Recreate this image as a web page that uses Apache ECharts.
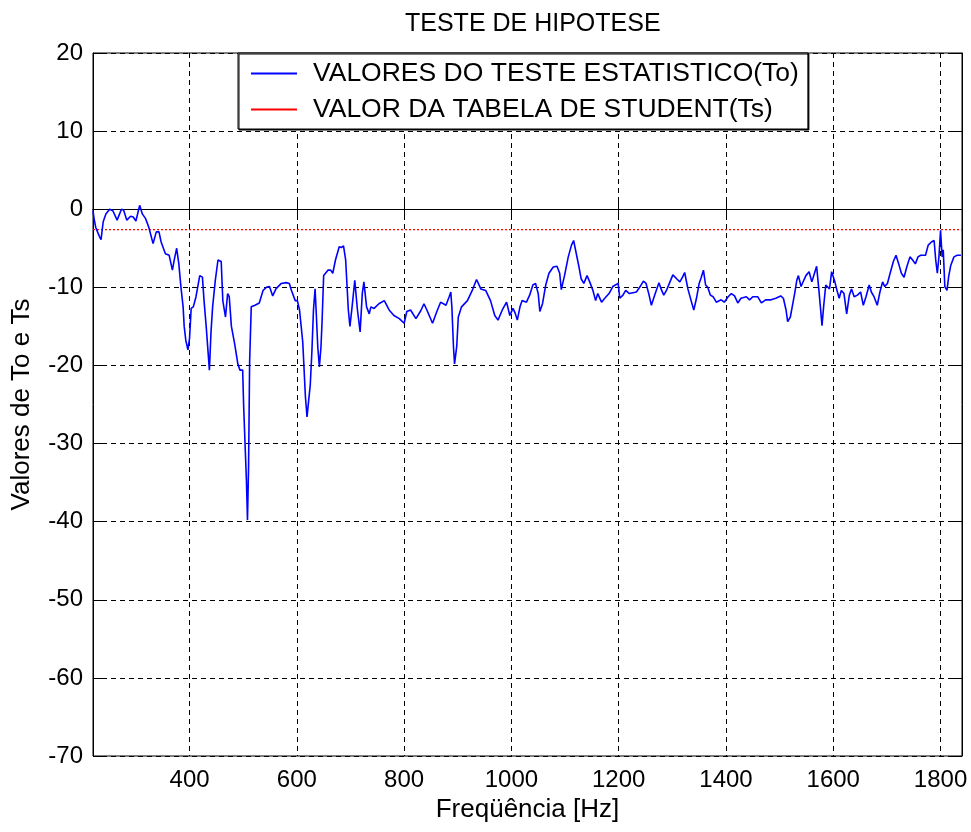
<!DOCTYPE html>
<html>
<head>
<meta charset="utf-8">
<title>TESTE DE HIPOTESE</title>
<script src="https://cdn.jsdelivr.net/npm/echarts@6/dist/echarts.min.js"></script>
<style>
  html, body { margin: 0; padding: 0; background: #fff; }
  #chart { width: 971px; height: 832px; }
</style>
</head>
<body>
<div id="chart"></div>
<script>
// Frequencies [Hz] and the statistic To at each frequency
const freq = [
  220, 222, 225, 229, 232, 235, 239, 244, 251, 257, 265, 273, 277, 283, 290, 295, 300, 307, 312, 318,
  324, 332, 338, 343, 347, 355, 362, 368, 372, 376, 380, 384, 388, 390, 393, 397, 400, 403, 407, 412,
  419, 424, 427, 431, 437, 440, 443, 448, 453, 459, 462, 467, 471, 474, 478, 484, 490, 494, 499, 501,
  504, 506, 508, 510, 512, 515, 522, 530, 537, 543, 549, 555, 561, 571, 580, 586, 590, 597, 601, 605,
  611, 616, 619, 622, 625, 628, 631, 634, 636, 639, 642, 645, 647, 650, 658, 663, 667, 672, 679, 683,
  687, 691, 696, 699, 703, 708, 713, 718, 722, 725, 730, 735, 738, 744, 753, 763, 772, 781, 791, 800,
  805, 812, 822, 831, 837, 843, 853, 861, 868, 878, 884, 887, 889, 892, 894, 898, 901, 907, 918, 927,
  935, 943, 952, 961, 969, 975, 983, 991, 997, 1003, 1007, 1011, 1016, 1020, 1028, 1034, 1040, 1045, 1050, 1053,
  1058, 1064, 1070, 1078, 1085, 1090, 1093, 1099, 1106, 1112, 1116, 1121, 1126, 1130, 1135, 1141, 1146, 1152, 1157, 1161,
  1168, 1174, 1182, 1189, 1199, 1202, 1208, 1213, 1220, 1233, 1240, 1246, 1251, 1256, 1261, 1267, 1275, 1279, 1284, 1289,
  1295, 1301, 1308, 1314, 1319, 1323, 1329, 1335, 1340, 1345, 1350, 1354, 1358, 1362, 1366, 1371, 1376, 1382, 1391, 1397,
  1404, 1410, 1416, 1422, 1428, 1438, 1444, 1450, 1459, 1466, 1474, 1484, 1493, 1502, 1507, 1512, 1515, 1520, 1524, 1528,
  1532, 1535, 1540, 1545, 1549, 1555, 1560, 1565, 1569, 1573, 1576, 1579, 1582, 1586, 1593, 1597, 1600, 1603, 1607, 1611,
  1615, 1620, 1625, 1630, 1634, 1639, 1645, 1651, 1656, 1661, 1667, 1671, 1676, 1682, 1687, 1692, 1696, 1701, 1706, 1712,
  1717, 1722, 1727, 1732, 1737, 1743, 1748, 1753, 1758, 1763, 1772, 1777, 1783, 1788, 1791, 1794, 1797, 1800, 1803, 1805,
  1808, 1812, 1815, 1819, 1825, 1831, 1838
];
const toValues = [
  -0.2, -1.2, -2.3, -3.0, -3.5, -3.9, -1.6, -0.6, 0.0, -0.2, -1.4, 0.0, -0.1, -1.4, -0.9, -1.0, -1.5, 0.5, -0.6, -1.2,
  -2.3, -4.4, -2.9, -2.9, -4.2, -5.7, -5.9, -7.8, -6.3, -5.0, -7.0, -10.0, -12.5, -15.0, -16.8, -18.0, -16.5, -12.7, -12.5, -11.2,
  -8.5, -8.7, -11.7, -15.0, -20.6, -15.7, -12.5, -9.1, -6.5, -6.7, -11.7, -13.8, -10.8, -11.2, -15.0, -17.2, -19.8, -20.6, -20.6, -25.5,
  -25.5, -34.7, -39.8, -33.0, -19.5, -12.5, -12.3, -12.0, -10.4, -10.0, -9.9, -11.1, -10.2, -9.5, -9.4, -9.5, -10.4, -11.7, -11.7, -12.9,
  -17.0, -24.0, -26.6, -24.5, -22.5, -18.3, -12.9, -10.2, -13.0, -17.6, -20.2, -17.6, -14.4, -8.5, -7.8, -7.8, -8.2, -6.5, -4.8, -4.9,
  -4.7, -6.5, -12.9, -15.0, -12.5, -9.1, -12.9, -15.7, -10.8, -9.3, -12.5, -13.4, -12.5, -12.7, -12.1, -11.7, -12.9, -13.6, -14.0, -14.6,
  -13.1, -12.9, -14.0, -13.0, -12.1, -13.0, -14.6, -13.1, -11.9, -12.3, -11.2, -10.6, -12.5, -17.6, -19.8, -17.6, -13.8, -12.5, -11.7, -10.4,
  -9.0, -10.2, -10.4, -11.7, -13.6, -14.2, -12.9, -11.9, -13.6, -12.7, -13.3, -14.2, -12.5, -11.7, -11.9, -11.0, -9.7, -9.5, -10.8, -13.1,
  -12.1, -9.7, -8.2, -7.4, -7.3, -8.2, -10.3, -8.5, -6.1, -4.6, -4.0, -5.7, -7.4, -8.9, -9.5, -8.5, -9.3, -10.4, -11.7, -10.8,
  -11.9, -11.4, -10.8, -9.9, -9.5, -11.4, -11.0, -10.4, -10.8, -10.6, -9.9, -9.2, -9.5, -10.8, -12.3, -11.0, -9.4, -10.2, -11.0, -10.4,
  -9.4, -8.4, -8.9, -9.3, -8.7, -8.1, -10.2, -11.7, -12.9, -11.4, -9.5, -8.7, -7.8, -9.7, -10.0, -11.0, -11.2, -11.9, -11.6, -11.9,
  -11.2, -10.8, -11.1, -12.0, -11.4, -11.2, -11.6, -11.2, -11.2, -12.0, -11.6, -11.6, -11.4, -11.1, -11.4, -12.9, -14.4, -13.8, -12.3, -10.8,
  -9.1, -8.5, -9.9, -9.1, -8.5, -8.0, -9.3, -8.2, -7.3, -10.2, -12.5, -14.9, -12.5, -9.7, -10.2, -8.0, -7.8, -9.3, -10.4, -11.4,
  -10.4, -10.8, -13.4, -11.0, -10.2, -11.2, -11.0, -10.6, -12.3, -11.2, -9.7, -10.6, -11.2, -12.3, -10.6, -9.3, -9.9, -9.5, -8.2, -6.7,
  -5.9, -7.0, -8.2, -8.7, -7.4, -6.1, -6.5, -7.0, -6.1, -5.9, -5.9, -4.6, -4.2, -4.0, -6.5, -8.2, -6.1, -2.7, -6.1, -5.2,
  -9.9, -10.4, -8.7, -7.2, -6.1, -5.9, -5.9
];

// Student's t table value, constant over the band
const tsFreq = [220, 1840];
const tsValues = [-2.6, -2.6];

// Axis ranges and tick labels
const xRange = [220, 1840];
const xTicks = [400, 600, 800, 1000, 1200, 1400, 1600, 1800];
const yRange = [-70, 20];
const yStep = 10;

const seriesNames = ['VALORES DO TESTE ESTATISTICO(To)', 'VALOR DA TABELA DE STUDENT(Ts)'];
const titleText = 'TESTE DE HIPOTESE';
const xName = 'Freqüência [Hz]';
const yName = 'Valores de To e Ts';

const FONT = '"Liberation Sans", Arial, Helvetica, sans-serif';

const zip = (xs, ys) => xs.map((x, i) => [x, ys[i]]);

const chart = echarts.init(document.getElementById('chart'), null, { renderer: 'canvas' });

const gridDash = { color: '#000', width: 1, type: [5, 4] };

const option = {
  backgroundColor: '#fff',
  animation: false,
  title: {
    text: titleText,
    left: 400,
    top: 7,
    textStyle: { fontFamily: FONT, fontSize: 25, fontWeight: 'normal', color: '#000' }
  },
  legend: {
    orient: 'vertical',
    left: 238,
    top: 53,
    padding: [7, 9, 6, 13],
    itemGap: 9,
    itemWidth: 46,
    itemHeight: 2,
    icon: 'rect',
    backgroundColor: '#fff',
    borderColor: '#000',
    borderWidth: 1,
    borderRadius: 0,
    shadowColor: '#000',
    shadowBlur: 0,
    shadowOffsetX: 1,
    shadowOffsetY: 1,
    data: seriesNames,
    formatter: name => '{t|' + name + '}',
    textStyle: {
      rich: {
        t: { fontFamily: FONT, fontSize: 26.5, color: '#000', lineHeight: 30, padding: [0, 0, 0, 11] }
      }
    }
  },
  grid: {
    left: 93, right: 9, top: 53, bottom: 76,
    show: true, borderColor: '#000', borderWidth: 1, backgroundColor: 'transparent'
  },
  xAxis: [
    {
      type: 'value',
      min: xRange[0], max: xRange[1],
      name: xName,
      nameLocation: 'middle',
      nameGap: 40,
      nameTextStyle: { fontFamily: FONT, fontSize: 26, color: '#000' },
      axisLine: { show: true, lineStyle: { color: '#000', width: 1 } },
      axisTick: { show: true, inside: true, length: 9, customValues: xTicks, lineStyle: { color: '#000' } },
      axisLabel: {
        customValues: xTicks,
        formatter: v => String(v),
        fontFamily: FONT, fontSize: 24, color: '#000', margin: 12
      },
      splitLine: { show: true, lineStyle: gridDash }
    },
    {
      type: 'value',
      position: 'top',
      min: xRange[0], max: xRange[1],
      axisLine: { show: true, lineStyle: { color: '#000', width: 1 } },
      axisTick: { show: true, inside: true, length: 9, customValues: xTicks, lineStyle: { color: '#000' } },
      axisLabel: { show: false },
      splitLine: { show: false }
    }
  ],
  yAxis: [
    {
      type: 'value',
      min: yRange[0], max: yRange[1], interval: yStep,
      name: yName,
      nameLocation: 'middle',
      nameGap: 58,
      nameTextStyle: { fontFamily: FONT, fontSize: 26, color: '#000' },
      axisLine: { show: true, lineStyle: { color: '#000', width: 1 } },
      axisTick: { show: true, inside: true, length: 9, lineStyle: { color: '#000' } },
      axisLabel: { formatter: v => String(v), fontFamily: FONT, fontSize: 24, color: '#000', margin: 10 },
      splitLine: { show: true, lineStyle: gridDash }
    },
    {
      type: 'value',
      position: 'right',
      min: yRange[0], max: yRange[1], interval: yStep,
      axisLine: { show: true, lineStyle: { color: '#000', width: 1 } },
      axisTick: { show: true, inside: true, length: 9, lineStyle: { color: '#000' } },
      axisLabel: { show: false },
      splitLine: { show: false }
    }
  ],
  series: [
    {
      name: seriesNames[0],
      type: 'line',
      xAxisIndex: 0, yAxisIndex: 0,
      data: zip(freq, toValues),
      symbol: 'none',
      color: '#0000ff',
      lineStyle: { color: '#0000ff', width: 1.6 },
      z: 5
    },
    {
      name: seriesNames[1],
      type: 'line',
      xAxisIndex: 0, yAxisIndex: 0,
      data: zip(tsFreq, tsValues),
      symbol: 'none',
      color: '#ff0000',
      lineStyle: { color: '#ff0000', width: 1.2, type: [2, 2] },
      z: 4
    }
  ]
};

chart.setOption(option);
</script>
</body>
</html>
